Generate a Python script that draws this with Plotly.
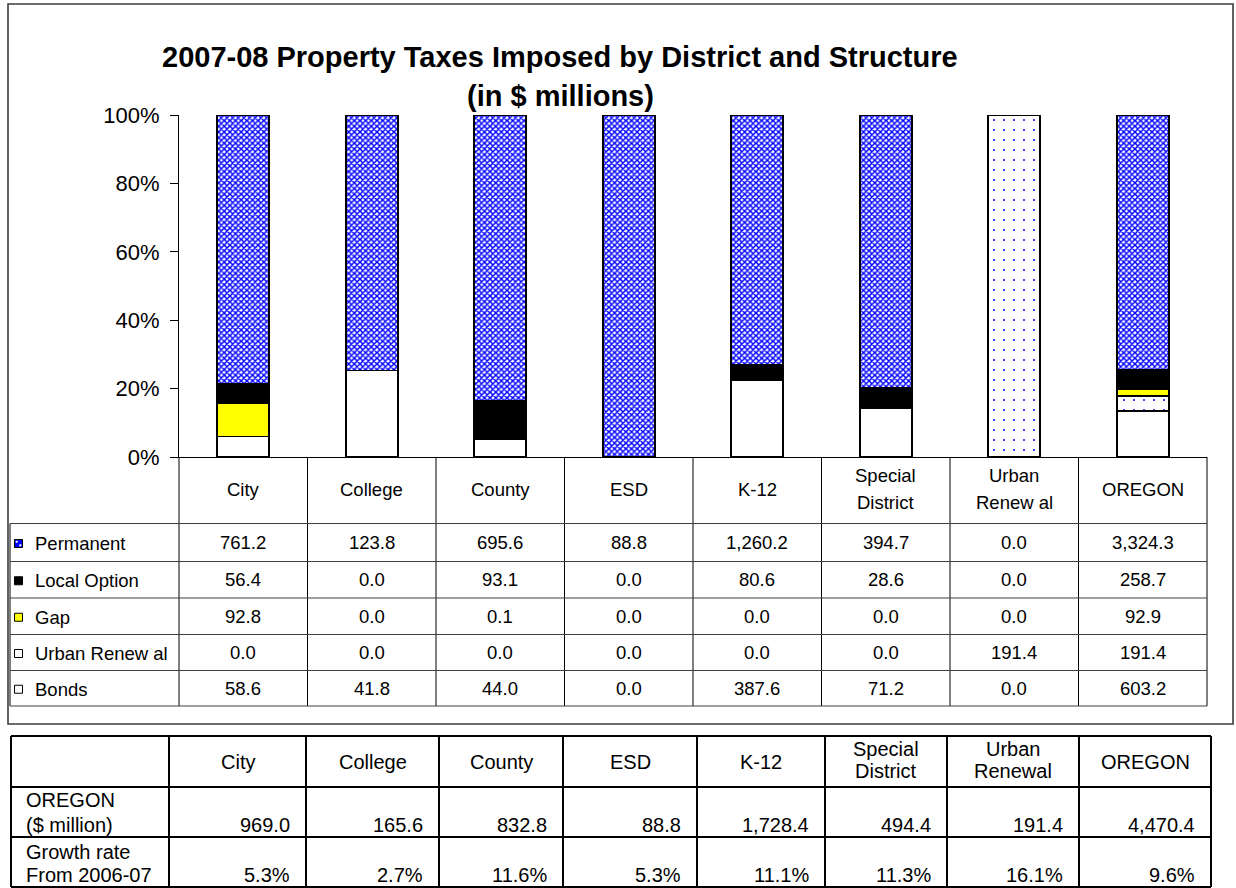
import plotly.graph_objects as go

W, H = 1236, 888

# ---- data -------------------------------------------------------------
categories = ["City", "College", "County", "ESD", "K-12",
              "Special District", "Urban Renewal", "OREGON"]
chart_headers = ["City", "College", "County", "ESD", "K-12",
                 "Special<br>District", "Urban<br>Renew al", "OREGON"]

permanent = [761.2, 123.8, 695.6, 88.8, 1260.2, 394.7, 0.0, 3324.3]
local_option = [56.4, 0.0, 93.1, 0.0, 80.6, 28.6, 0.0, 258.7]
gap = [92.8, 0.0, 0.1, 0.0, 0.0, 0.0, 0.0, 92.9]
urban_renewal = [0.0, 0.0, 0.0, 0.0, 0.0, 0.0, 191.4, 191.4]
bonds = [58.6, 41.8, 44.0, 0.0, 387.6, 71.2, 0.0, 603.2]

summary_headers = ["City", "College", "County", "ESD", "K-12",
                   "Special<br>District", "Urban<br>Renewal", "OREGON"]
oregon_total = [969.0, 165.6, 832.8, 88.8, 1728.4, 494.4, 191.4, 4470.4]
growth_rate = [5.3, 2.7, 11.6, 5.3, 11.1, 11.3, 16.1, 9.6]

y_ticks = [0, 20, 40, 60, 80, 100]

FONT = "Arial, Liberation Sans, sans-serif"
BLUE = "#0000FF"


def px(x):
    return x / W


def py(y):
    return 1 - y / H


# series drawn bottom -> top; table rows listed top -> bottom
series = [
    dict(name="Bonds", values=bonds, color="white",
         pattern=dict(shape="")),
    dict(name="Urban Renew al", values=urban_renewal, color="white",
         pattern=dict(shape=".", fgcolor=BLUE, bgcolor="white",
                      size=10, solidity=0.03, fillmode="replace")),
    dict(name="Gap", values=gap, color="#FFFF00",
         pattern=dict(shape="")),
    dict(name="Local Option", values=local_option, color="black",
         pattern=dict(shape="")),
    dict(name="Permanent", values=permanent, color=BLUE,
         pattern=dict(shape="x", fgcolor=BLUE, bgcolor="white",
                      size=4, solidity=0.6, fillmode="replace")),
]

fig = go.Figure()
for s in series:
    fig.add_trace(go.Bar(
        x=categories, y=s["values"], name=s["name"],
        marker=dict(color=s["color"], pattern=s["pattern"],
                    line=dict(color="black", width=1.6)),
        showlegend=False,
    ))

# ---- geometry of plot area and tables (pixels) ------------------------
PL, PR, PT, PB = 179, 1207, 115, 457
col_w = (PR - PL) / len(categories)
col_edges = [PL + col_w * k for k in range(len(categories) + 1)]
row_edges = [523.5, 561.5, 598, 634.5, 670.5, 706]

shapes = []
annotations = []


def hline(x0, x1, y, color="black", width=1):
    shapes.append(dict(type="line", xref="paper", yref="paper",
                       x0=px(x0), x1=px(x1), y0=py(y), y1=py(y),
                       line=dict(color=color, width=width)))


def vline(x, y0, y1, color="black", width=1):
    shapes.append(dict(type="line", xref="paper", yref="paper",
                       x0=px(x), x1=px(x), y0=py(y0), y1=py(y1),
                       line=dict(color=color, width=width)))


def text(x, y, s, size=18.5, xanchor="center", xref="paper", bold=False):
    annotations.append(dict(
        x=px(x) if xref == "paper" else x, y=py(y), xref=xref, yref="paper",
        text=f"<b>{s}</b>" if bold else s, showarrow=False,
        xanchor=xanchor, yanchor="middle",
        font=dict(family=FONT, size=size, color="black")))


# chart frame
shapes.append(dict(type="rect", xref="paper", yref="paper",
                   x0=px(8), x1=px(1233), y0=py(4), y1=py(724),
                   line=dict(color="#3c3c3c", width=1.6), layer="below"))

# title
text(560, 57, "2007-08 Property Taxes Imposed by District and Structure",
     size=29, bold=True)
text(560, 96, "(in $ millions)", size=29, bold=True)

# ---- data table under the bars ---------------------------------------
vline(PL, PB, row_edges[-1])
for xe in col_edges[1:]:
    vline(xe, PB, row_edges[-1])
vline(10, row_edges[0], row_edges[-1])
for ye in row_edges:
    hline(10, PR, ye, color="#404040")

# category headers
for cat, lab in zip(categories, chart_headers):
    lines = lab.split("<br>")
    if len(lines) == 1:
        text(cat, 489, lines[0], xref="x")
    else:
        text(cat, 475, lines[0], xref="x")
        text(cat, 502, lines[1], xref="x")

# rows: legend key, label and values
key_colors = {"Permanent": BLUE, "Local Option": "black", "Gap": "#FFFF00",
              "Urban Renew al": "white", "Bonds": "white"}
for i, s in enumerate(reversed(series)):
    yc = (row_edges[i] + row_edges[i + 1]) / 2
    shapes.append(dict(type="rect", xref="paper", yref="paper",
                       x0=px(14.5), x1=px(22.5), y0=py(yc - 3), y1=py(yc + 5),
                       fillcolor=key_colors[s["name"]],
                       line=dict(color="black", width=1)))
    if s["name"] == "Permanent":
        for dx, dy in [(-1.8, -1.8), (1.8, 1.8)]:
            shapes.append(dict(type="rect", xref="paper", yref="paper",
                               x0=px(18.5 + dx - 1), x1=px(18.5 + dx + 1),
                               y0=py(yc + 1 + dy - 1), y1=py(yc + 1 + dy + 1),
                               fillcolor="white", line=dict(width=0)))
    text(33, yc + 1, s["name"], xanchor="left")
    for cat, v in zip(categories, s["values"]):
        text(cat, yc, f"{v:,.1f}", xref="x")

# ---- summary table ----------------------------------------------------
sx = [11, 169, 306, 439, 563, 697, 825, 947, 1079, 1211]
sy = [736, 787, 837, 887]
for xe in sx:
    vline(xe, sy[0], sy[-1], width=2)
for ye in sy:
    hline(sx[0], sx[-1], ye, width=2)

ST = 20
for k, lab in enumerate(summary_headers):
    xc = (sx[k + 1] + sx[k + 2]) / 2
    lines = lab.split("<br>")
    if len(lines) == 1:
        text(xc, 761.5, lines[0], size=ST)
    else:
        text(xc, 749, lines[0], size=ST)
        text(xc, 771, lines[1], size=ST)

text(24, 800, "OREGON", size=ST, xanchor="left")
text(24, 825, "($ million)", size=ST, xanchor="left")
text(24, 852, "Growth rate", size=ST, xanchor="left")
text(24, 875, "From 2006-07", size=ST, xanchor="left")
for k, (tot, gr) in enumerate(zip(oregon_total, growth_rate)):
    xr = sx[k + 2] - 14
    text(xr, 825, f"{tot:,.1f}", size=ST, xanchor="right")
    text(xr, 875, f"{gr:.1f}%", size=ST, xanchor="right")

fig.update_layout(
    width=W, height=H, autosize=False,
    margin=dict(l=0, r=0, t=0, b=0, pad=0),
    paper_bgcolor="white", plot_bgcolor="white",
    barmode="stack", barnorm="percent", bargap=0.595,
    font=dict(family=FONT, color="black"),
    shapes=shapes, annotations=annotations,
    xaxis=dict(domain=[px(PL), px(PR)], type="category",
               categoryorder="array", categoryarray=categories,
               showticklabels=False, ticks="", showgrid=False,
               showline=True, linecolor="black", linewidth=1,
               zeroline=False, fixedrange=True, automargin=False),
    yaxis=dict(domain=[py(PB), py(PT)], range=[0, 100],
               tickvals=y_ticks, ticktext=[f"{t}%" for t in y_ticks],
               ticks="outside", ticklen=8, tickcolor="black", tickwidth=1,
               showline=True, linecolor="black", linewidth=1,
               showgrid=False, zeroline=False, ticklabelstandoff=6,
               tickfont=dict(family=FONT, size=22, color="black"),
               fixedrange=True, automargin=False),
)

fig.write_html("out.html")
